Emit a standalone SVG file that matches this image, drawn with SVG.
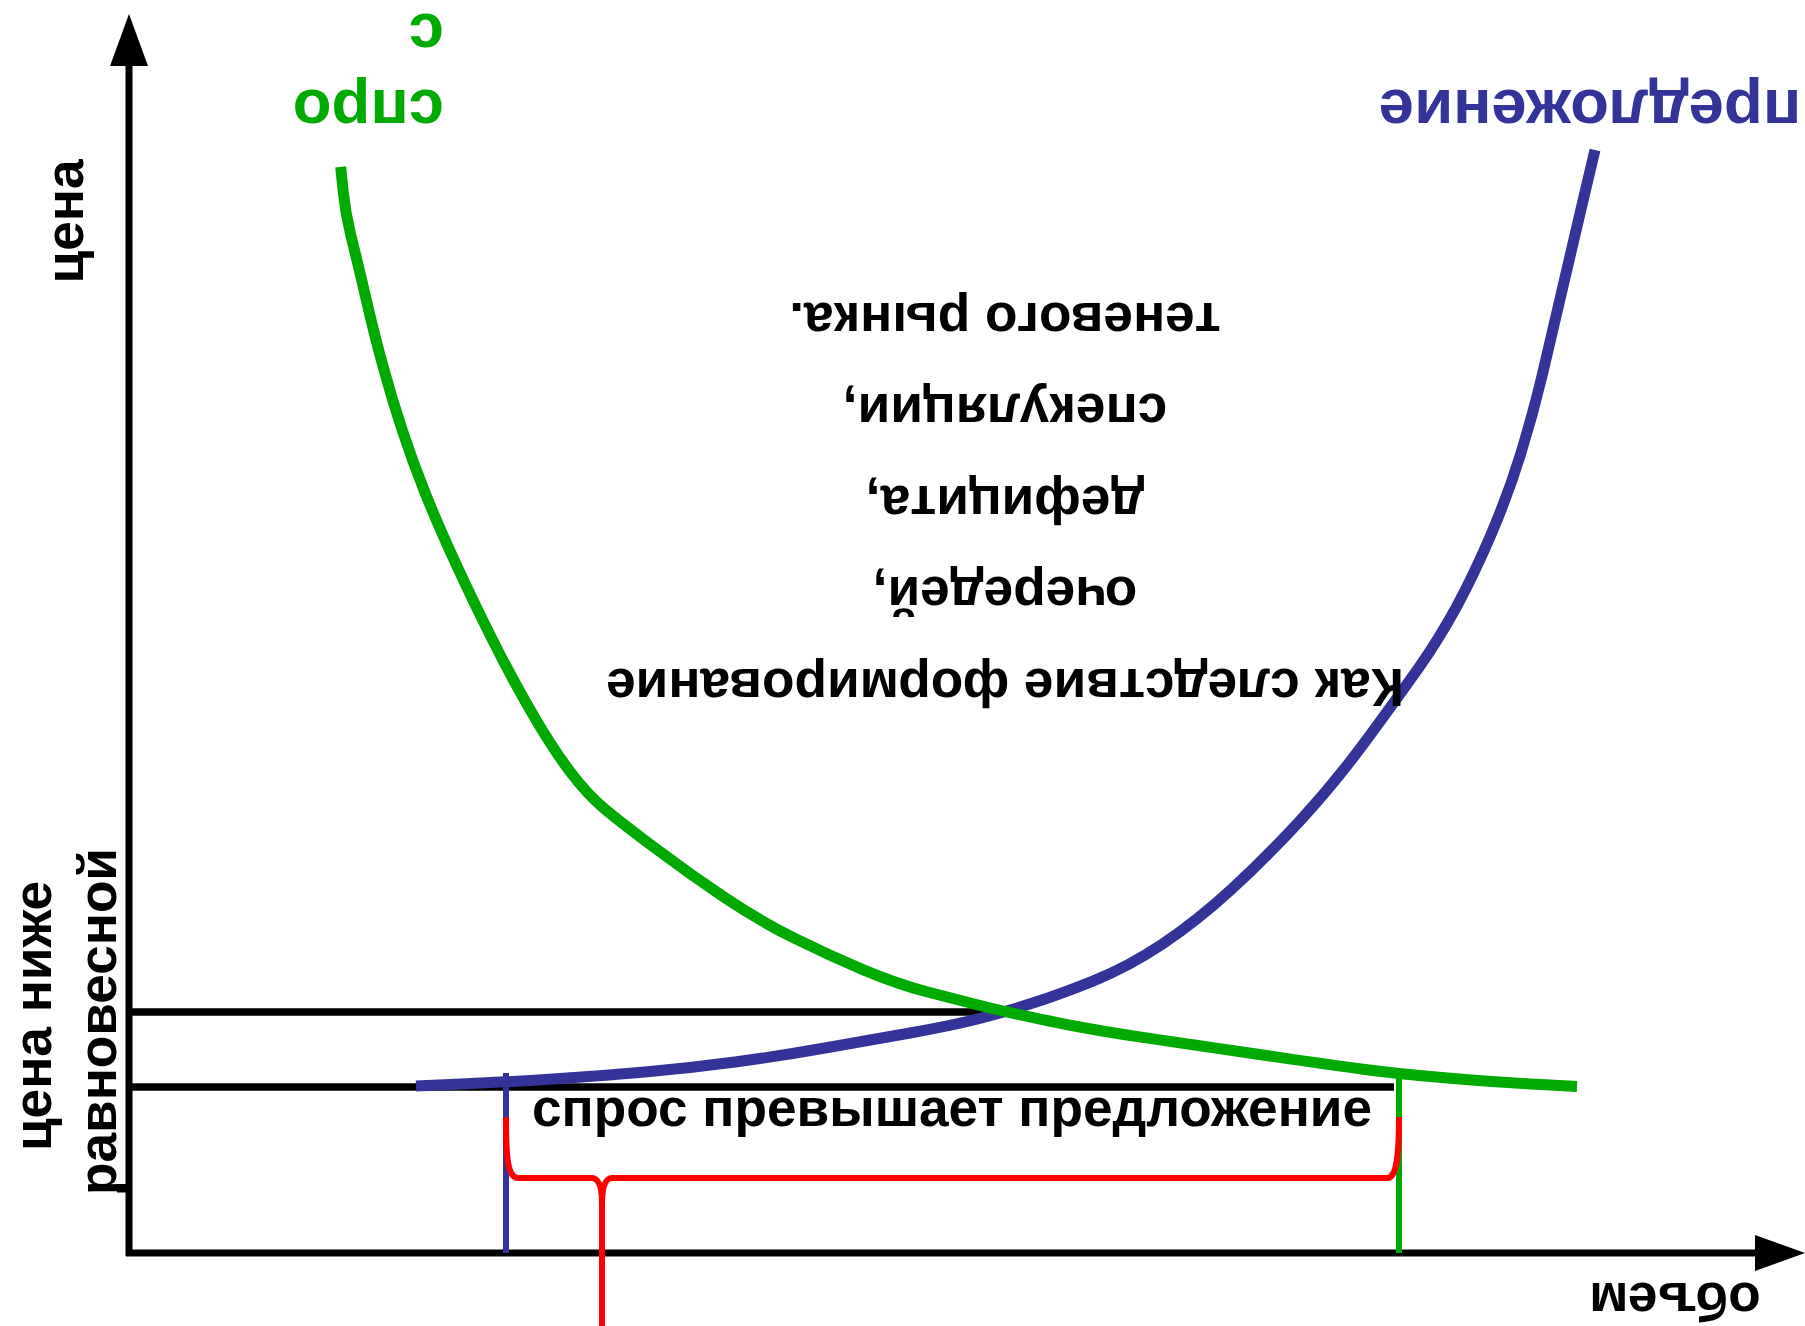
<svg xmlns="http://www.w3.org/2000/svg" width="1805" height="1326" viewBox="0 0 1805 1326">
<style>
.t{font-family:"Liberation Sans",Arial,sans-serif;font-weight:bold;}
.b52{font-size:53.2px;fill:#000;}
.g62{font-size:63.5px;fill:#00AA00;}
.u62{font-size:63.5px;fill:#333399;}
.ax{stroke:#000;stroke-width:7;fill:none;}
.ln{stroke:#000;stroke-width:7.5;fill:none;}
.cv{fill:none;stroke-width:11;stroke-linejoin:round;}
</style>
<rect width="1805" height="1326" fill="#fff"/>
<g id="axes">
<line class="ax" x1="129" y1="60" x2="129" y2="1256"/>
<polygon points="129,14 110,66 148,66" fill="#000"/>
<line class="ax" x1="126" y1="1253" x2="1760" y2="1253"/>
<polygon points="1805,1253 1755,1235 1755,1271" fill="#000"/>
<line x1="117" y1="1190" x2="129" y2="1190" stroke="#000" stroke-width="5"/>
</g>
<g id="connectors">
<line class="ln" x1="129" y1="1012" x2="1005" y2="1012"/>
<line class="ln" x1="129" y1="1087" x2="1394" y2="1087"/>
<path id="supply" class="cv" stroke="#333399" d="M416,1086 L461,1084 Q506,1082 553,1079 Q600,1076 645,1072 Q690,1068 735,1062 Q780,1056 825,1048 Q870,1040 910,1033 Q950,1026 977.5,1019 Q1005,1012 1032,1003.3 Q1059,994.6 1093.5,980.8 Q1128,967 1162.5,944 Q1197,921 1231.5,889.3 Q1266,857.6 1300.5,820.2 Q1335,782.7 1366.8,739.6 Q1398.6,696.4 1418.8,667.7 Q1438.9,638.9 1456.2,607.3 Q1473.4,575.6 1490.7,535.3 Q1508,495 1520.5,454.5 Q1533,414 1542.5,374 Q1552,334 1560.5,297 Q1569,260 1582,205 L1595,150"/>
<path id="demand" class="cv" stroke="#00AA00" d="M340.7,166.9 L343,190 Q345.3,213 351,236 Q356.8,259 365.5,296.4 Q374.1,333.8 382.8,365.5 Q391.4,397.1 401.8,428.8 Q412.1,460.4 424.8,492.1 Q437.4,523.8 454.7,561.2 Q471.9,598.6 492,638.9 Q512.2,679.1 532.4,713.7 Q552.5,748.2 569.8,771.3 Q587.1,794.3 604.4,808.7 Q621.6,823 656.2,848.9 Q690.7,874.8 725.2,897.9 Q759.7,920.9 794.3,938.2 Q828.8,955.4 863.4,969.8 Q897.9,984.2 926.7,991.7 Q955.4,999.2 980.2,1005.5 Q1004.9,1011.8 1049.2,1021 Q1093.5,1030.2 1151.1,1038.6 Q1208.7,1047 1266.3,1055.5 Q1323.8,1064 1361.2,1069 Q1398.6,1074 1447.5,1078 Q1496.4,1082 1536.7,1084.3 L1577,1086.6"/>
<line x1="506" y1="1073" x2="506" y2="1253" stroke="#333399" stroke-width="6"/>
<line x1="1399" y1="1073" x2="1399" y2="1253" stroke="#00AA00" stroke-width="6"/>
<path id="brace" fill="none" stroke="#FF0000" stroke-width="6" d="M506,1117 C506,1160 508,1178 518,1178 L592,1178 C599,1178 602,1188 602,1205 L602,1326 M602,1205 C602,1188 605,1178 612,1178 L1387,1178 C1396,1178 1399,1160 1399,1117"/>
</g>
<g id="label-price">
<text class="t b52" text-anchor="middle" transform="translate(83,221.5) rotate(-90)">цена</text>
</g>
<g id="label-below">
<text class="t b52" text-anchor="middle" transform="translate(51,1016) rotate(-90)">цена ниже</text>
<text class="t b52" text-anchor="middle" transform="translate(116,1021.5) rotate(-90)">равновесной</text>
</g>
<g id="label-volume">
<text class="t b52" text-anchor="middle" x="1675" y="1283" transform="rotate(180 1675 1283)">объем</text>
</g>
<g id="label-demand">
<text class="t g62" x="444" y="89.5" transform="rotate(180 444 89.5)">спро</text>
<text class="t g62" x="444" y="13.5" transform="rotate(180 444 13.5)">с</text>
</g>
<g id="label-supply">
<text class="t u62" text-anchor="middle" x="1590" y="90" transform="rotate(180 1590 90)">предложение</text>
</g>
<g id="label-excess">
<text class="t b52" x="532" y="1125.5">спрос превышает предложение</text>
</g>
<g id="label-consequences" class="t b52" text-anchor="middle">
<text x="1005" y="302.5" transform="rotate(180 1005 302.5)">теневого рынка.</text>
<text x="1005" y="394" transform="rotate(180 1005 394)">спекуляции,</text>
<text x="1005" y="485.5" transform="rotate(180 1005 485.5)">дефицита,</text>
<text x="1005" y="577" transform="rotate(180 1005 577)">очередей,</text>
<text x="1005" y="668.5" transform="rotate(180 1005 668.5)">Как следствие формирование</text>
</g>
</svg>
